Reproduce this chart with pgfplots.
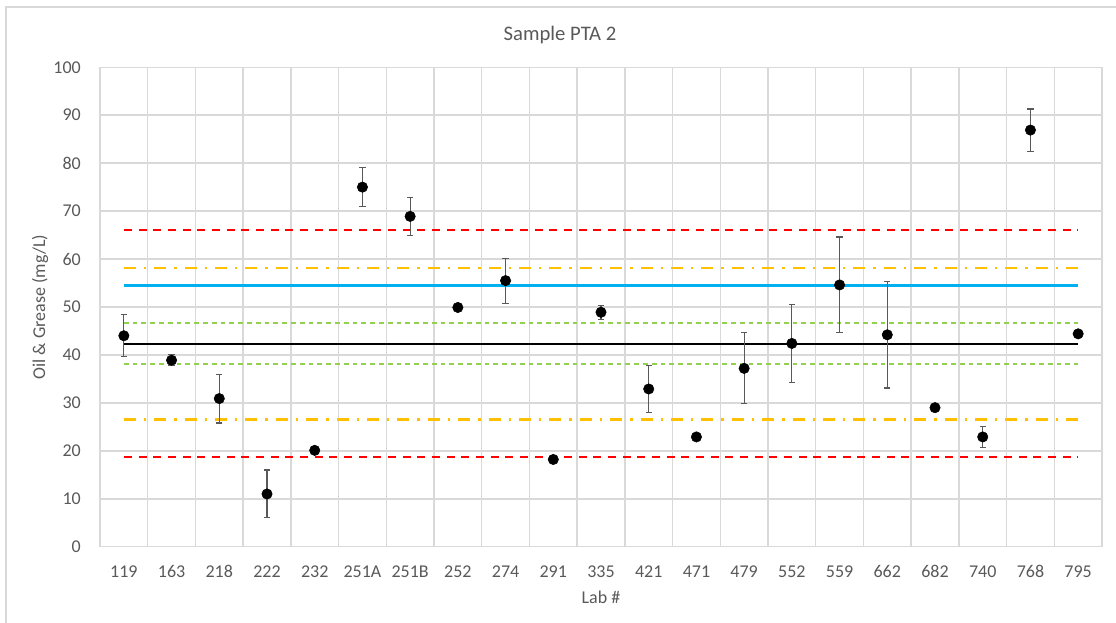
\documentclass[border=0pt]{standalone}
\usepackage{pgfplots}
\pgfplotsset{compat=1.18}
\usepackage{pgfplotstable}
\usepackage{fontspec}
\setmainfont{Carlito}
\definecolor{txtgray}{HTML}{595959}
\definecolor{gridgray}{HTML}{D9D9D9}
\definecolor{xred}{HTML}{FF0000}
\definecolor{xorange}{HTML}{FFC000}
\definecolor{xblue}{HTML}{00B0F0}
\definecolor{xgreen}{HTML}{92D050}
\definecolor{ebar}{HTML}{595959}

\pgfplotstableread{
x y e
0 44.0 4.4
1 38.9 1.1
2 30.9 5.1
3 11.0 5.0
4 20.1 0
5 75.0 4.0
6 68.9 4.0
7 49.9 0
8 55.5 4.7
9 18.2 0
10 48.9 1.5
11 32.9 4.9
12 22.9 0
13 37.2 7.4
14 42.4 8.2
15 54.6 10.0
16 44.2 11.1
17 29.0 0
18 22.9 2.2
19 86.9 4.4
20 44.4 0
}\labdata

\begin{document}
\begin{tikzpicture}
\path[use as bounding box] (0,0) rectangle (837pt,467.25pt);
\draw[gridgray, line width=1pt] (4.5pt,0) -- (4.5pt,462pt) -- (837pt,462pt);
\node[text=txtgray, font=\fontsize{15.5}{18}\selectfont] at (420pt,441pt) {Sample PTA 2};
\begin{axis}[
  at={(75pt,57.2pt)}, anchor=south west,
  scale only axis, width=751.5pt, height=359.6pt,
  xmin=-0.5, xmax=20.5, ymin=0, ymax=100,
  xtick={0,1,...,20},
  xticklabels={119,163,218,222,232,251A,251B,252,274,291,335,421,471,479,552,559,662,682,740,768,795},
  minor xtick={-0.5,0.5,1.5,2.5,3.5,4.5,5.5,6.5,7.5,8.5,9.5,10.5,11.5,12.5,13.5,14.5,15.5,16.5,17.5,18.5,19.5,20.5},
  ytick={0,10,...,100},
  xminorgrids=true, xmajorgrids=false, ymajorgrids=true,
  major tick length=0pt, minor tick length=0pt,
  grid style={gridgray, line width=1.1pt},
  minor grid style={gridgray, line width=1.1pt},
  axis line style={gridgray, line width=1.1pt},
  tick style={draw=none},
  /pgf/number format/assume math mode=true,
  tick label style={text=txtgray, font=\fontsize{13.5}{16}\selectfont, inner sep=0pt},
  xticklabel style={anchor=base, yshift=-23.1pt},
  yticklabel style={anchor=east, xshift=-14.2pt},
  xlabel={Lab \#},
  ylabel={Oil \& Grease (mg/L)},
  label style={text=txtgray, font=\fontsize{13.5}{16}\selectfont, inner sep=0pt},
  xlabel style={at={(axis description cs:0.5,0)}, anchor=base, yshift=-42.8pt},
  ylabel style={at={(axis description cs:0,0.5)}, anchor=center, yshift=45pt},
  clip=false,
]
\addplot[xred, line width=1.5pt, dash pattern=on 6pt off 5pt] coordinates {(0,66.0) (20,66.0)};
\addplot[xred, line width=1.5pt, dash pattern=on 6pt off 5pt] coordinates {(0,18.75) (20,18.75)};
\addplot[xorange, line width=1.8pt, dash pattern=on 9pt off 6pt on 1.8pt off 6pt] coordinates {(0,58.1) (20,58.1)};
\addplot[xorange, line width=1.8pt, dash pattern=on 9pt off 6pt on 1.8pt off 6pt] coordinates {(0,26.5) (20,26.5)};
\addplot[xblue, line width=2.2pt] coordinates {(0,54.45) (20,54.45)};
\addplot[xgreen, line width=1.3pt, dash pattern=on 3.6pt off 3pt] coordinates {(0,46.65) (20,46.65)};
\addplot[xgreen, line width=1.3pt, dash pattern=on 3.6pt off 3pt] coordinates {(0,38.05) (20,38.05)};
\addplot[black, line width=1.2pt] coordinates {(0,42.3) (20,42.3)};
\addplot[only marks, mark=*, mark size=3.9pt, mark options={black, fill=black},
  error bars/.cd, y dir=both, y explicit,
  error bar style={ebar, line width=0.8pt},
  error mark options={ebar, line width=0.8pt, mark size=2.4pt, rotate=90}]
  table[x=x, y=y, y error=e] {\labdata};
\end{axis}
\end{tikzpicture}
\end{document}
